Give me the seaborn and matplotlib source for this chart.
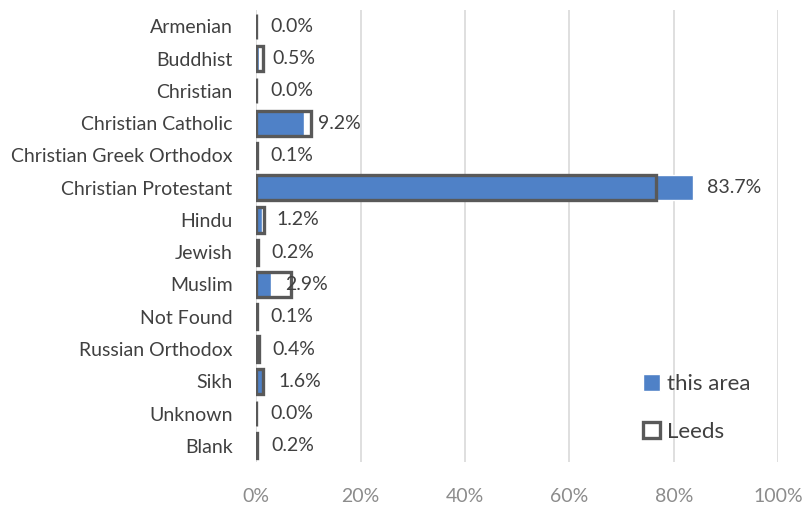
import pandas as pd
import seaborn as sns
import matplotlib.pyplot as plt

# religion categories
religions = ["Armenian", "Buddhist", "Christian", "Christian Catholic",
             "Christian Greek Orthodox", "Christian Protestant", "Hindu",
             "Jewish", "Muslim", "Not Found", "Russian Orthodox", "Sikh",
             "Unknown", "Blank"]
this_area = [0.0, 0.5, 0.0, 9.2, 0.1, 83.7, 1.2, 0.2, 2.9, 0.1, 0.4, 1.6, 0.0, 0.2]
leeds = [0.05, 1.3, 0.05, 10.5, 0.2, 76.6, 1.5, 0.3, 6.7, 0.2, 0.5, 1.4, 0.05, 0.2]
ticks = [0, 20, 40, 60, 80, 100]

df = pd.DataFrame({"religion": religions, "this area": this_area, "Leeds": leeds})

sns.set_style("white")
plt.rcParams['font.family'] = ['Lato', 'DejaVu Sans']

fig = plt.figure(figsize=(8.08, 5.08), dpi=100)
ax = fig.add_axes([0.317, 0.0906, 0.646, 0.8894])

# filled bars for this area
sns.barplot(data=df, y="religion", x="this area", color="#4f81c7", width=0.78,
            saturation=1, ax=ax, label="this area", zorder=2)
# outline bars for Leeds
sns.barplot(data=df, y="religion", x="Leeds", facecolor="none", edgecolor="#595959",
            linewidth=2.4, width=0.78, ax=ax, label="Leeds", zorder=3)

# data labels
for i, v in enumerate(this_area):
    ax.annotate(f"{v:.1f}%", (v, i), xytext=(10, 0), textcoords="offset points",
                ha="left", va="center", fontsize=14, color="#404040")

ax.set_xlim(0, 100)
ax.set_ylim(13.5, -0.5)
ax.set_xticks(ticks)
ax.set_xticklabels([f"{t}%" for t in ticks])
ax.grid(axis="x", color="#d9d9d9", linewidth=1.2, zorder=0)
ax.set_axisbelow(True)
for s in ax.spines.values():
    s.set_visible(False)
ax.tick_params(axis="x", length=0, pad=19, labelsize=14, labelcolor="#8c8c8c")
ax.tick_params(axis="y", length=0, pad=17, labelsize=14, labelcolor="#404040")
ax.set_xlabel("")
ax.set_ylabel("")

ax.legend(loc="lower right", bbox_to_anchor=(0.985, 0.0), frameon=False,
          fontsize=16, labelspacing=1.25, handlelength=0.75, handleheight=0.75,
          handletextpad=0.3, labelcolor="#404040")

fig.savefig("out.png", dpi=100)
